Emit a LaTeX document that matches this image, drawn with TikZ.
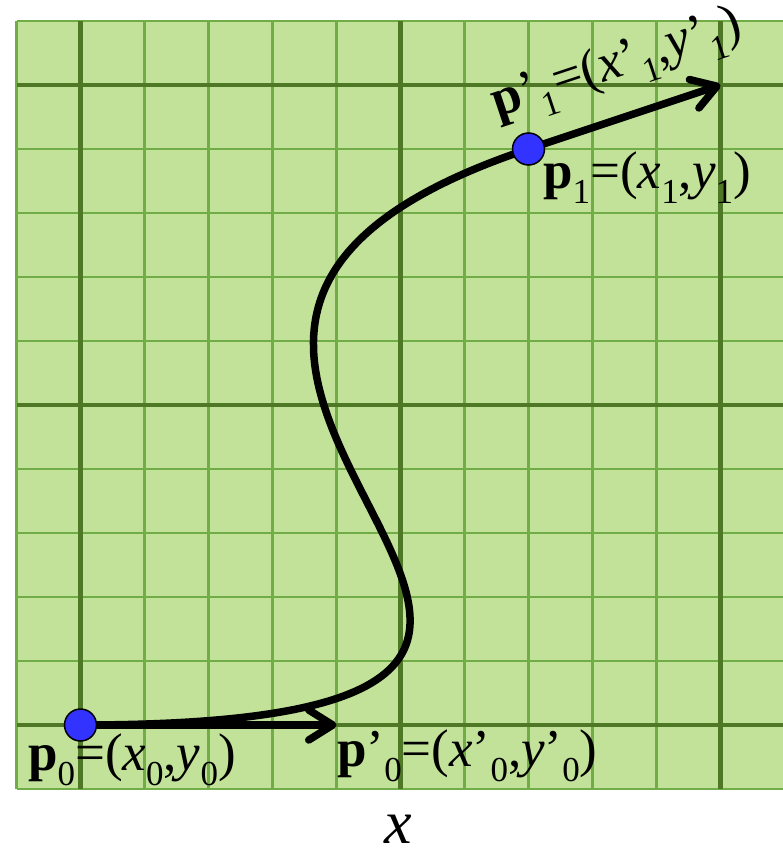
\documentclass[tikz,border=0pt]{standalone}
\usepackage{fontspec}
\setmainfont{Liberation Serif}
\usetikzlibrary{arrows.meta}
\definecolor{gridbg}{RGB}{193,226,152}
\definecolor{gridminor}{RGB}{112,173,71}
\definecolor{gridmajor}{RGB}{78,120,38}
\definecolor{ptblue}{RGB}{51,51,255}
\newcommand{\lbl}{\fontsize{53}{58}\selectfont}
\newcommand{\sbs}[1]{\raisebox{-15pt}{\fontsize{35}{38}\selectfont #1}}
\pgfdeclarelayer{bg}\pgfdeclarelayer{mid}\pgfsetlayers{bg,mid,main}
\begin{document}
\begin{tikzpicture}[x=1pt,y=-1pt,
 pt/.style={circle,draw=black,line width=1.5pt,fill=ptblue,minimum size=32pt,inner sep=0pt},
 curve/.style={line width=7.5pt,black},
 vec/.style={line width=7.5pt,black,-{Straight Barb[length=24pt,width=30pt,round]}},
 lab/.style={inner sep=0pt,anchor=base west,font=\lbl},
 minorline/.style={gridminor,line width=2.6pt},
 majorline/.style={gridmajor,line width=4.5pt}]
\useasboundingbox (0,0) rectangle (783,850);
\clip (0,0) rectangle (783,850);
\begin{pgfonlayer}{bg}
\fill[gridbg] (16.5,21) rectangle (784.5,789);
\foreach \i in {0,...,12} {
  \draw[minorline] (16.5+64*\i,21) -- (16.5+64*\i,789);
  \draw[minorline] (16.5,21+64*\i) -- (784.5,21+64*\i);
}
\foreach \i in {1,6,11} {
  \draw[majorline] (16.5+64*\i,21) -- (16.5+64*\i,789);
  \draw[majorline] (16.5,21+64*\i) -- (784.5,21+64*\i);
}
\end{pgfonlayer}
\node[pt] (p0) at (80.5,725) {};
\node[pt] (p1) at (528.5,149) {};
\coordinate (t0) at (336.5,725);
\coordinate (t1) at (720.5,85);
\begin{pgfonlayer}{mid}
\draw[curve] (p0.center) .. controls (861,725) and (-72,349) .. (p1.center);
\draw[vec] (p0.center) -- (t0);
\draw[vec] (p1.center) -- (t1);
\end{pgfonlayer}
\node[lab] (l0) at (28,770) {\textbf{p}\sbs{0}=(\textit{x}\sbs{0},\textit{y}\sbs{0})};
\node[lab] (l0d) at (337,766) {\textbf{p}’\sbs{0}=(\textit{x}’\sbs{0},\textit{y}’\sbs{0})};
\node[lab] (l1) at (543,189) {\textbf{p}\sbs{1}=(\textit{x}\sbs{1},\textit{y}\sbs{1})};
\node[lab,rotate=18.4] (l1d) at (497,118) {\textbf{p}’\sbs{1}=(\textit{x}’\sbs{1},\textit{y}’\sbs{1})};
\node[inner sep=0pt,anchor=base,font=\fontsize{62}{66}\selectfont] (xl) at (398,843) {\textit{x}};
\end{tikzpicture}
\end{document}
